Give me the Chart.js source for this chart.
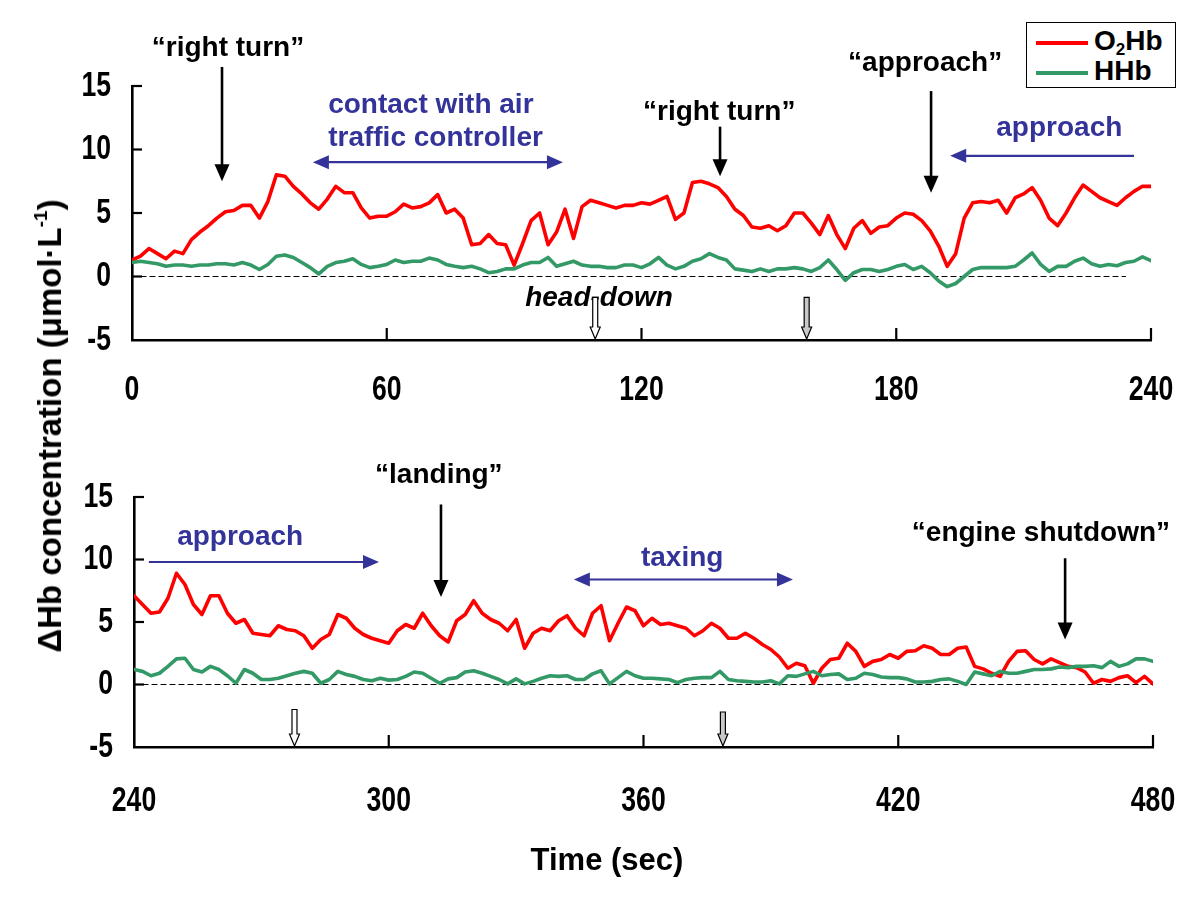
<!DOCTYPE html>
<html lang="en">
<head>
<meta charset="UTF-8">
<title>ΔHb concentration during flight</title>
<script src="https://cdn.jsdelivr.net/npm/chart.js"></script>
<style>
  body { margin:0; background:#fff; width:1200px; height:902px; position:relative; overflow:hidden;
         font-family:'Liberation Sans', Arial, sans-serif; color:#000; }
  canvas { position:absolute; left:0; }
  #topChart { top:0; }
  #bottomChart { top:420px; }
  .ytitle { position:absolute; left:50px; top:426px; transform:translate(-50%,-50%) rotate(-90deg);
            white-space:nowrap; font-weight:bold; font-size:33px; }
  .ytitle sup { font-size:19px; vertical-align:14px; line-height:0; }
  .xtitle { position:absolute; left:607px; top:860px; transform:translate(-50%,-50%);
            white-space:nowrap; font-weight:bold; font-size:31px; }
  .legend { position:absolute; left:1026px; top:22px; width:148px; height:64px; border:1.5px solid #000;
            font-weight:bold; font-size:28px; background:#fff; }
  .legend .row { position:absolute; left:9px; height:30px; line-height:30px; white-space:nowrap; }
  .legend .sw { display:inline-block; width:52px; height:4px; vertical-align:middle; margin-right:6px; }
  .legend sub { font-size:17px; vertical-align:-5px; line-height:0; }
</style>
</head>
<body>
<canvas id="topChart" width="1200" height="420"></canvas>
<canvas id="bottomChart" width="1200" height="482"></canvas>
<div class="ytitle">&Delta;Hb concentration (&mu;mol&middot;L<sup>-1</sup>)</div>
<div class="xtitle">Time (sec)</div>
<div class="legend">
  <div class="row" style="top:3px"><span class="sw" style="background:#ff0000"></span>O<sub>2</sub>Hb</div>
  <div class="row" style="top:33px"><span class="sw" style="background:#339966"></span>HHb</div>
</div>
<script>
  // sampled every 2 s
  const topTimes = Array.from({length: 121}, (_, i) => i * 2);
  const bottomTimes = Array.from({length: 121}, (_, i) => 240 + i * 2);

  const topO2Hb = [
    1.3,1.6,2.2,1.8,1.4,2.0,1.8,2.9,3.5,4.0,
    4.6,5.1,5.2,5.6,5.6,4.6,5.9,8.0,7.9,7.1,
    6.5,5.8,5.3,6.1,7.1,6.6,6.6,5.4,4.6,4.75,
    4.75,5.1,5.7,5.4,5.5,5.8,6.45,5.0,5.3,4.6,
    2.5,2.6,3.3,2.6,2.5,0.9,2.6,4.4,5.0,2.5,
    3.5,5.3,3.0,5.5,6.0,5.8,5.6,5.4,5.6,5.6,
    5.8,5.7,6.0,6.3,4.5,5.0,7.4,7.5,7.3,7.0,
    6.3,5.3,4.8,3.9,3.8,4.0,3.6,4.0,5.0,5.0,
    4.2,3.3,4.8,3.3,2.2,3.8,4.4,3.4,3.9,4.0,
    4.6,5.0,4.9,4.4,3.6,2.4,0.8,1.8,4.6,5.8,
    5.9,5.8,6.0,5.0,6.2,6.5,7.0,6.0,4.6,4.0,
    5.0,6.2,7.2,6.7,6.2,5.9,5.6,6.2,6.7,7.1,
    7.1
  ];
  const topHHb = [
    1.1,1.2,1.1,1.0,0.8,0.9,0.9,0.8,0.9,0.9,
    1.0,1.0,0.9,1.1,0.9,0.55,0.95,1.6,1.7,1.5,
    1.1,0.7,0.2,0.8,1.1,1.2,1.4,0.95,0.7,0.8,
    0.95,1.3,1.1,1.2,1.2,1.45,1.3,0.95,0.8,0.7,
    0.8,0.6,0.3,0.4,0.6,0.6,0.9,1.1,1.1,1.5,
    0.8,1.0,1.2,0.9,0.8,0.8,0.7,0.7,0.9,0.9,
    0.7,1.0,1.5,0.9,0.6,0.8,1.2,1.4,1.8,1.5,
    1.3,0.6,0.5,0.4,0.6,0.4,0.6,0.6,0.7,0.6,
    0.4,0.7,1.3,0.55,-0.3,0.3,0.55,0.55,0.4,0.55,
    0.8,0.95,0.55,0.8,0.3,-0.35,-0.8,-0.55,0.0,0.55,
    0.7,0.7,0.7,0.7,0.8,1.3,1.85,0.95,0.4,0.8,
    0.8,1.2,1.45,1.0,0.8,0.95,0.85,1.1,1.2,1.55,
    1.25
  ];
  const bottomO2Hb = [
    7.1,6.4,5.7,5.8,6.9,8.9,8.0,6.4,5.6,7.1,
    7.1,5.7,4.9,5.2,4.1,4.0,3.9,4.7,4.4,4.3,
    3.9,2.9,3.6,4.0,5.6,5.3,4.5,4.0,3.7,3.5,
    3.3,4.3,4.8,4.5,5.7,4.7,3.9,3.4,5.1,5.6,
    6.7,5.7,5.2,4.9,4.3,5.2,2.9,4.1,4.5,4.3,
    5.1,5.5,4.5,3.9,5.7,6.3,3.5,4.9,6.2,5.9,
    4.7,5.3,4.8,4.9,4.7,4.5,3.9,4.3,4.9,4.5,
    3.7,3.7,4.1,3.7,3.2,2.8,2.2,1.3,1.7,1.5,
    0.1,1.3,2.0,2.1,3.3,2.65,1.45,1.85,2.0,2.4,
    2.1,2.65,2.7,3.1,2.9,2.4,2.4,2.9,3.0,1.45,
    1.25,0.9,0.65,1.85,2.65,2.7,2.0,1.65,2.05,1.75,
    1.45,1.35,1.0,0.1,0.4,0.25,0.55,0.7,0.15,0.65,
    0.05
  ];
  const bottomHHb = [
    1.2,1.05,0.7,0.9,1.45,2.05,2.1,1.2,1.0,1.45,
    1.2,0.7,0.1,1.2,0.9,0.4,0.4,0.5,0.7,0.9,
    1.05,0.9,0.1,0.4,1.05,0.8,0.65,0.4,0.3,0.5,
    0.35,0.4,0.65,1.0,0.9,0.5,0.1,0.45,0.55,1.0,
    1.1,0.9,0.65,0.4,0.05,0.45,0.05,0.25,0.5,0.7,
    0.65,0.7,0.4,0.4,0.85,1.1,0.05,0.55,1.05,0.7,
    0.5,0.5,0.45,0.4,0.15,0.4,0.5,0.55,0.55,1.05,
    0.4,0.3,0.25,0.2,0.2,0.3,0.05,0.7,0.65,0.85,
    1.05,0.7,0.8,0.85,0.4,0.5,0.9,0.8,0.6,0.55,
    0.55,0.45,0.2,0.2,0.25,0.4,0.45,0.25,0.0,1.0,
    0.85,0.7,1.05,0.9,0.9,1.05,1.2,1.2,1.25,1.4,
    1.35,1.45,1.45,1.5,1.35,1.85,1.45,1.65,2.05,2.05,
    1.85
  ];

  // spoken call-outs (black arrows)
  const topCalls = [
    {text: '“right turn”', t: 21.2, from: 16.5, to: 7.5, labelT: 22.6, labelV: 18.0},
    {text: '“right turn”', t: 138.5, from: 11.8, to: 7.9, labelT: 138.3, labelV: 12.9},
    {text: '“approach”', t: 188.2, from: 14.6, to: 6.6, labelT: 186.8, labelV: 16.8}
  ];
  const bottomCalls = [
    {text: '“landing”', t: 312.3, from: 14.4, to: 7.0, labelT: 311.8, labelV: 16.7},
    {text: '“engine shutdown”', t: 459.3, from: 10.1, to: 3.6, labelT: 453.6, labelV: 12.1}
  ];
  // flight phases (blue arrows)
  const topPhases = [
    {lines: ['contact with air', 'traffic controller'], from: 42.6, to: 101.5, v: 9.0, both: true, labelT: 46.2, labelV: [13.5, 10.9], align: 'left'},
    {lines: ['approach'], from: 236, to: 192.7, v: 9.5, both: false, labelT: 218.4, labelV: [11.7], align: 'center'}
  ];
  const bottomPhases = [
    {lines: ['approach'], from: 243.5, to: 297.7, v: 9.8, both: false, labelT: 265.0, labelV: [11.8], align: 'center'},
    {lines: ['taxing'], from: 343.6, to: 395.2, v: 8.4, both: true, labelT: 369.1, labelV: [10.1], align: 'center'}
  ];
  // head-down markers (hollow arrows)
  const topHeadDown = [{t: 109.1, top: -1.65, fill: '#ffffff'}, {t: 158.9, top: -1.65, fill: '#c8c8c8'}];
  const bottomHeadDown = [{t: 277.8, top: -2.0, fill: '#ffffff'}, {t: 378.7, top: -2.2, fill: '#c8c8c8'}];

  const RED = '#ff0000', GREEN = '#339966', BLUE = '#333399';
  const TICK_FONT = 'bold 35px "Liberation Sans", Arial, sans-serif';
  const NARROW = 0.76;

  const pts = (ts, vs) => ts.map((t, i) => ({x: t, y: vs[i]}));

  function arrowV(ctx, x, y1, y2, color, lw, hw, hl) {
    ctx.save();
    ctx.strokeStyle = color; ctx.fillStyle = color; ctx.lineWidth = lw;
    ctx.beginPath(); ctx.moveTo(x, y1); ctx.lineTo(x, y2 - hl + 1); ctx.stroke();
    ctx.beginPath(); ctx.moveTo(x - hw / 2, y2 - hl); ctx.lineTo(x + hw / 2, y2 - hl); ctx.lineTo(x, y2);
    ctx.closePath(); ctx.fill();
    ctx.restore();
  }

  function head(ctx, xTip, y, dir, hw, hl) {
    ctx.beginPath(); ctx.moveTo(xTip, y); ctx.lineTo(xTip - dir * hl, y - hw / 2); ctx.lineTo(xTip - dir * hl, y + hw / 2);
    ctx.closePath(); ctx.fill();
  }

  function arrowH(ctx, x1, x2, y, color, both) {
    const dir = Math.sign(x2 - x1), hl = 16, hw = 14;
    ctx.save();
    ctx.strokeStyle = color; ctx.fillStyle = color; ctx.lineWidth = 2.2;
    ctx.beginPath(); ctx.moveTo(both ? x1 + dir * (hl - 1) : x1, y); ctx.lineTo(x2 - dir * (hl - 1), y); ctx.stroke();
    head(ctx, x2, y, dir, hw, hl);
    if (both) head(ctx, x1, y, -dir, hw, hl);
    ctx.restore();
  }

  function hollowArrow(ctx, x, y1, y2, fill) {
    const sw = 5, hw = 10, hl = 12;
    ctx.save();
    ctx.fillStyle = fill; ctx.strokeStyle = '#000'; ctx.lineWidth = 1.2;
    ctx.beginPath();
    ctx.moveTo(x - sw / 2, y1); ctx.lineTo(x + sw / 2, y1); ctx.lineTo(x + sw / 2, y2 - hl);
    ctx.lineTo(x + hw / 2, y2 - hl); ctx.lineTo(x, y2); ctx.lineTo(x - hw / 2, y2 - hl);
    ctx.lineTo(x - sw / 2, y2 - hl); ctx.closePath();
    ctx.fill(); ctx.stroke();
    ctx.restore();
  }

  // condensed bold numerals like the original figure
  function narrowText(ctx, text, x, y, align) {
    ctx.save();
    ctx.translate(x, y);
    ctx.scale(NARROW, 1);
    ctx.textAlign = align;
    ctx.fillText(text, 0, 0);
    ctx.restore();
  }

  function notesPlugin(calls, phases, markers, headText, xLabelGap) {
    return {
      id: 'notes',
      afterDraw(chart) {
        const ctx = chart.ctx, xs = chart.scales.x, ys = chart.scales.y;
        const X = v => xs.getPixelForValue(v), Y = v => ys.getPixelForValue(v);
        const area = chart.chartArea;

        // inward tick marks and tick labels
        ctx.save();
        ctx.strokeStyle = '#000'; ctx.lineWidth = 2.2;
        ctx.fillStyle = '#000'; ctx.font = TICK_FONT; ctx.textBaseline = 'middle';
        ys.ticks.forEach(tk => {
          const y = Y(tk.value);
          if (tk.value !== ys.min) {
            ctx.beginPath(); ctx.moveTo(area.left, y); ctx.lineTo(area.left + 10, y); ctx.stroke();
          }
          narrowText(ctx, String(tk.value), area.left - 21, y, 'right');
        });
        xs.ticks.forEach(tk => {
          const x = X(tk.value);
          if (tk.value !== xs.min) {
            ctx.beginPath(); ctx.moveTo(x, area.bottom); ctx.lineTo(x, area.bottom - 12); ctx.stroke();
          }
          narrowText(ctx, String(tk.value), x, area.bottom + xLabelGap, 'center');
        });
        ctx.restore();

        ctx.save();
        ctx.textBaseline = 'middle';
        ctx.font = 'bold 28px "Liberation Sans", Arial, sans-serif';
        calls.forEach(c => {
          ctx.fillStyle = '#000'; ctx.textAlign = 'center';
          ctx.fillText(c.text, X(c.labelT), Y(c.labelV));
          arrowV(ctx, X(c.t), Y(c.from), Y(c.to), '#000', 2.6, 15, 17);
        });
        phases.forEach(p => {
          ctx.fillStyle = BLUE; ctx.textAlign = p.align;
          p.lines.forEach((ln, i) => ctx.fillText(ln, X(p.labelT), Y(p.labelV[i])));
          arrowH(ctx, X(p.from), X(p.to), Y(p.v), BLUE, p.both);
        });
        if (headText) {
          ctx.fillStyle = '#000'; ctx.textAlign = 'center';
          ctx.font = 'italic bold 28px "Liberation Sans", Arial, sans-serif';
          ctx.fillText(headText.text, X(headText.t), Y(headText.v));
        }
        markers.forEach(m => hollowArrow(ctx, X(m.t), Y(m.top), Y(ys.min) - 1, m.fill));
        ctx.restore();
      }
    };
  }

  function makePanel(id, times, o2, hhb, xmin, xmax, zeroEnd, padTop, padRight, yWidth, xHeight, plugin) {
    return new Chart(document.getElementById(id), {
      type: 'line',
      data: {
        datasets: [
          {label: 'HHb', data: pts(times, hhb), borderColor: GREEN, borderWidth: 3.6, pointRadius: 0, order: 0},
          {label: 'O2Hb', data: pts(times, o2), borderColor: RED, borderWidth: 3.6, pointRadius: 0, order: 1},
          {label: 'zero', data: [{x: xmin, y: 0}, {x: zeroEnd, y: 0}], borderColor: '#000', borderWidth: 1.2,
           borderDash: [5, 4], pointRadius: 0, order: 2}
        ]
      },
      options: {
        responsive: false,
        animation: false,
        devicePixelRatio: 1,
        layout: {padding: {top: padTop, right: padRight, left: 0, bottom: 0}},
        plugins: {legend: {display: false}, tooltip: {enabled: false}},
        elements: {line: {tension: 0, borderJoinStyle: 'round', borderCapStyle: 'round'}},
        scales: {
          x: {
            type: 'linear', min: xmin, max: xmax,
            grid: {display: false, drawTicks: false},
            border: {display: true, color: '#000', width: 2.6},
            ticks: {stepSize: 60, display: false},
            afterFit: s => { s.height = xHeight; s.paddingLeft = 0; s.paddingRight = 0; }
          },
          y: {
            min: -5, max: 15,
            grid: {display: false, drawTicks: false},
            border: {display: true, color: '#000', width: 2.6},
            ticks: {stepSize: 5, display: false},
            afterFit: s => { s.width = yWidth; s.paddingTop = 0; s.paddingBottom = 0; }
          }
        }
      },
      plugins: [plugin]
    });
  }

  makePanel('topChart', topTimes, topO2Hb, topHHb, 0, 240, 234, 86, 49, 132, 80,
    notesPlugin(topCalls, topPhases, topHeadDown, {text: 'head-down', t: 110.0, v: -1.75}, 50));
  makePanel('bottomChart', bottomTimes, bottomO2Hb, bottomHHb, 240, 480, 480, 77, 47, 134, 155,
    notesPlugin(bottomCalls, bottomPhases, bottomHeadDown, null, 54));
</script>
</body>
</html>
